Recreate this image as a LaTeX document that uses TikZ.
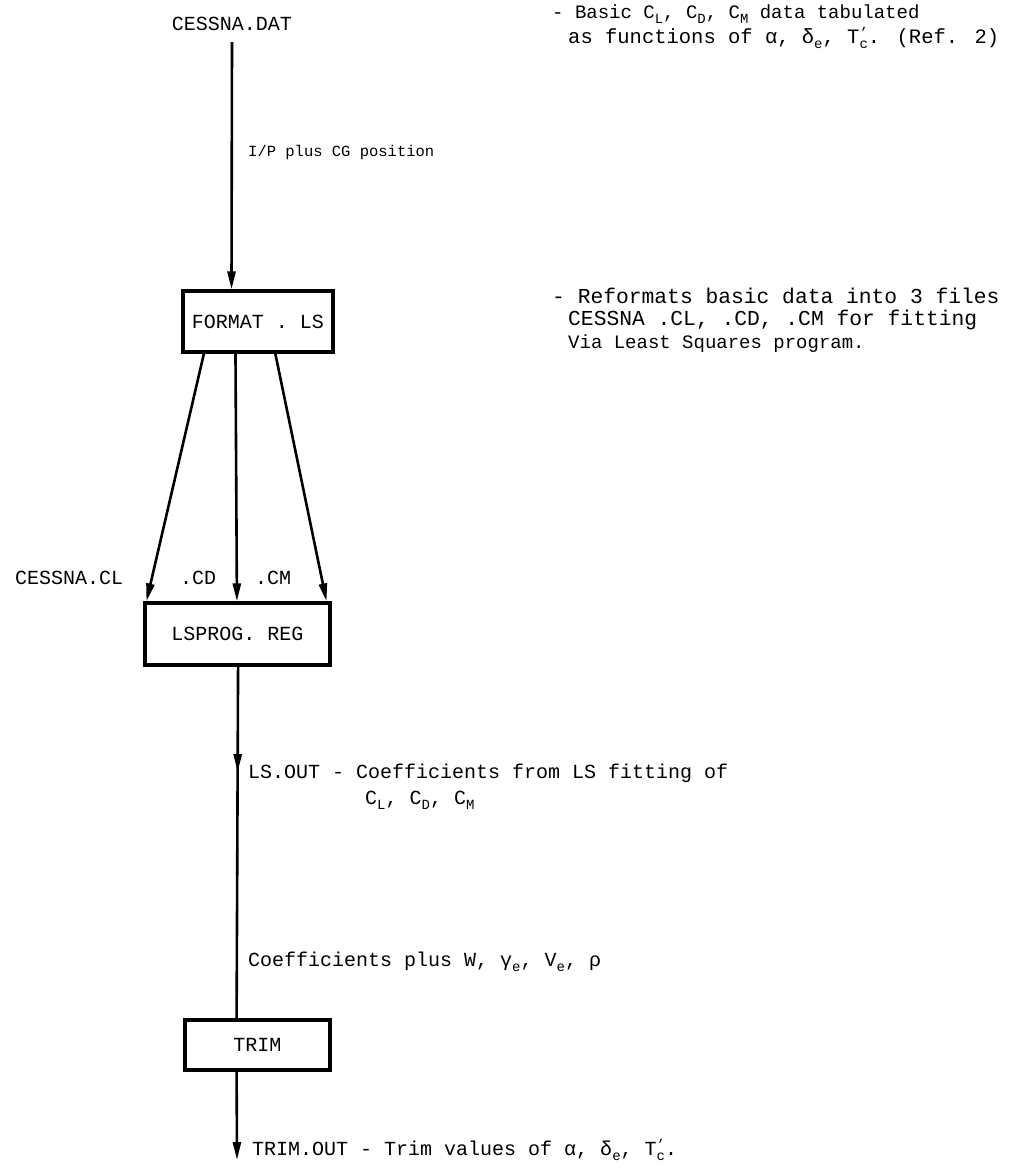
\documentclass[tikz,border=0pt]{standalone}
\usepackage{fontspec}
\setmainfont{Liberation Mono}
\usetikzlibrary{arrows.meta,calc,decorations.markings}
\newcommand{\smallfnt}{\fontsize{14}{16}\selectfont}
\newcommand{\lsub}[1]{\raisebox{-0.5ex}{\smallfnt #1}}
\newcommand{\Tc}{T\raisebox{-0.5ex}{\smallfnt\rlap{\raisebox{1.6ex}{'}}c}}
\begin{document}
\begin{tikzpicture}[x=1pt,y=-1pt,
  txt/.style={font=\fontsize{20}{24}\selectfont, inner sep=0pt},
  note/.style={font=\fontsize{19}{24}\selectfont, inner sep=0pt, anchor=west},
  prog/.style={draw, line width=3.2pt, font=\fontsize{20}{24}\selectfont, inner sep=0pt},
  flow/.style={line width=2.6pt, -{Triangle[length=18pt,width=8pt]}},
  plain/.style={line width=2.6pt}
]
\useasboundingbox (0,0) rectangle (1020,1171);

% files / programs
\node[txt] (dat) at (232,24) {CESSNA.DAT};
\node[prog, minimum width=150pt, minimum height=61pt] (fmt) at (258,321.5) {FORMAT . LS};
\node[prog, minimum width=185pt, minimum height=62pt] (lsp) at (237.5,634) {LSPROG. REG};
\node[prog, minimum width=145pt, minimum height=50pt] (trim) at (257.5,1045) {TRIM};
\coordinate (datb) at (232,42);
\coordinate (end) at (237,1160);

% connectors
\draw[flow] (datb) -- ($(fmt.north west)!0.327!(fmt.north east)$);
\draw[flow] ($(fmt.south west)!0.147!(fmt.south east)$) -- ($(lsp.north west)!0.016!(lsp.north east)$);
\draw[flow] ($(fmt.south west)!0.353!(fmt.south east)$) -- ($(lsp.north west)!0.497!(lsp.north east)$);
\draw[flow] ($(fmt.south west)!0.613!(fmt.south east)$) -- ($(lsp.north west)!0.973!(lsp.north east)$);
\draw[plain, postaction={decorate}, decoration={markings, mark=at position 0.3 with {\arrow{Triangle[length=18pt,width=8pt]}}}]
  ($(lsp.south west)!0.503!(lsp.south east)$) -- ($(trim.north west)!0.359!(trim.north east)$);
\draw[flow] ($(trim.south west)!0.359!(trim.south east)$) -- (end);

% labels
\node[txt, anchor=west, font=\fontsize{15.5}{18}\selectfont] (ip) at (248,152) {I/P plus CG position};
\node[txt, anchor=west] (cl) at (15,578) {CESSNA.CL};
\node[txt, anchor=west] (cd) at (180,578) {.CD};
\node[txt, anchor=west] (cm) at (255,578) {.CM};
\node[txt, anchor=west] (lsout) at (248,773) {LS.OUT - Coefficients from LS fitting of};
\node[txt, anchor=west] (lsout2) at (365,800) {C\lsub{L}, C\lsub{D}, C\lsub{M}};
\node[txt, anchor=west] (coef) at (248,962) {Coefficients plus W, γ\lsub{e}, V\lsub{e}, ρ};
\node[txt, anchor=west] (tout) at (252,1150) {TRIM.OUT - Trim values of α, δ\lsub{e}, \Tc.};

% notes
\node[note] (n1a) at (552,14) {- Basic C\lsub{L}, C\lsub{D}, C\lsub{M} data tabulated};
\node[note, font=\fontsize{20.5}{24}\selectfont] (n1b) at (568,38) {as functions of α, δ\lsub{e}, \Tc. (Ref. 2)};
\node[note, font=\fontsize{21.3}{24}\selectfont] (n2a) at (552,296) {- Reformats basic data into 3 files};
\node[note, font=\fontsize{21.3}{24}\selectfont] (n2b) at (568,320) {CESSNA .CL, .CD, .CM for fitting};
\node[note] (n2c) at (568,344) {Via Least Squares program.};
\end{tikzpicture}
\end{document}
